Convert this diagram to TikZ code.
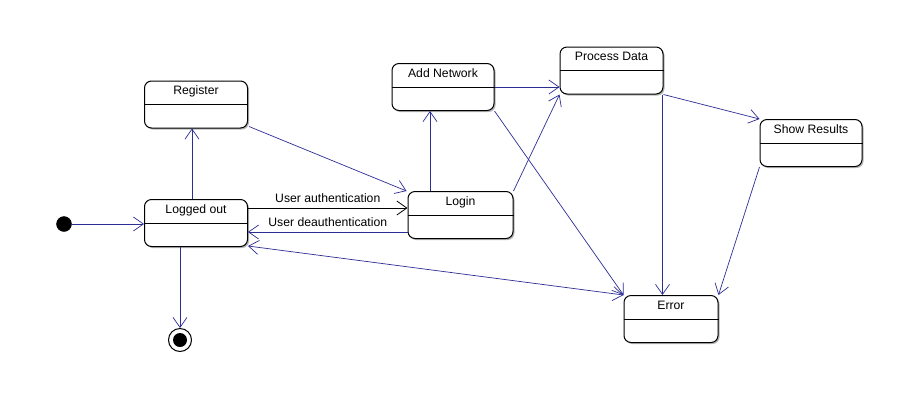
\documentclass[tikz,border=0pt]{standalone}
\usepackage{fontspec}
\setmainfont{Liberation Sans}
\usetikzlibrary{arrows.meta,calc}
\definecolor{lineblue}{RGB}{45,45,150}
\definecolor{shadowgray}{RGB}{180,180,180}
\tikzset{
  state/.style={draw=black, line width=1pt, fill=white, rounded corners=7pt,
    minimum height=47pt, inner sep=0pt,
    preaction={fill=shadowgray, draw=none, transform canvas={xshift=1.5pt,yshift=-1.5pt}}},
  stitle/.style={font=\fontsize{12.2}{14}\selectfont, inner sep=0pt, anchor=base},
  conn/.style={draw=lineblue, line width=0.7pt, -{Straight Barb[length=10pt,width=14pt]}},
  both/.style={draw=lineblue, line width=0.7pt, {Straight Barb[length=10pt,width=14pt]}-{Straight Barb[length=10pt,width=14pt]}},
  authline/.style={draw=black, line width=0.8pt, -{Straight Barb[length=10pt,width=14pt]}},
  lbl/.style={font=\fontsize{12.2}{14}\selectfont, inner sep=0pt, anchor=base},
}
\newcommand{\statebox}[5]{%
  \node[state, minimum width=#4pt] (#1) at (#2,#3) {};
  \node[stitle] (#1t) at ($(#1.north)+(0,14)$) {#5};
  \draw[line width=0.9pt] ($(#1.north west)+(0,24)$) -- ($(#1.north east)+(0,24)$);
}
\begin{document}
\begin{tikzpicture}[x=1pt,y=-1pt]
\useasboundingbox[fill=white] (0,0) rectangle (918,416);
% states
\statebox{reg}{196}{104.5}{103}{Register}
\statebox{lo}{196}{223}{103}{Logged out}
\statebox{login}{460.5}{215}{105}{Login}
\statebox{addnet}{443}{87}{102}{Add Network}
\statebox{proc}{611.5}{70.5}{103}{Process Data}
\statebox{show}{811}{143}{102}{Show Results}
\statebox{err}{671}{319}{94}{Error}
% pseudo states
\node[circle, fill=black, draw=black, minimum size=15pt, inner sep=0pt] (start) at (64,224) {};
\node[circle, draw=black, line width=1pt, fill=white, minimum size=23pt, inner sep=0pt] (fin) at (180,340) {};
\node[circle, fill=black, minimum size=14pt, inner sep=0pt] (finin) at (fin) {};
% connectors
\draw[conn] (start.east) -- (lo.west |- start.east);
\draw[conn] (lo.south -| fin.north) -- (fin.north);
\draw[conn] ($(lo.north)+(-4,0)$) -- ($(reg.south)+(-4,0)$);
\draw[conn] ($(reg.south east)+(1,-2)$) -- ($(login.north west)+(-1,0)$);
\draw[authline] ($(lo.east)+(0,-15)$) coordinate (a1) -- (a1 -| login.west)
  node[lbl, midway, yshift=6pt] (authl) {User authentication};
\draw[conn] ($(login.west)+(0,17)$) coordinate (d1) -- (d1 -| lo.east)
  node[lbl, midway, yshift=6pt] (deauthl) {User deauthentication};
\draw[both] (err.north west) -- ($(lo.south east)+(0,-1)$);
\draw[conn] ($(login.north)+(-30.5,0)$) coordinate (l1) -- (l1 |- addnet.south);
\draw[conn] (login.north east) -- (proc.south west);
\draw[conn] (addnet.east) -- (addnet.east -| proc.west);
\draw[conn] (addnet.south east) -- (err.north west);
\draw[conn] ($(proc.south east)+(-1,0)$) coordinate (p1) -- (p1 |- err.north);
\draw[conn] (proc.south east) -- (show.north west);
\draw[conn] (show.south west) -- (err.north east);
\end{tikzpicture}
\end{document}
